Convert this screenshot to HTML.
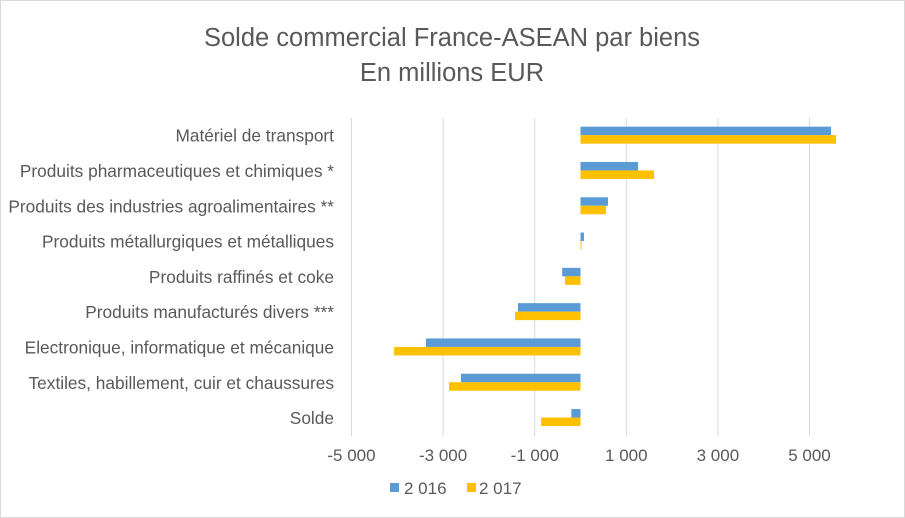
<!DOCTYPE html>
<html><head><meta charset="utf-8"><style>
html,body{margin:0;padding:0;background:#fff;}
svg{display:block;font-family:"Liberation Sans",sans-serif;}
</style></head><body>
<svg id="chart" width="905" height="518">
<rect x="0.5" y="0.5" width="904" height="517" fill="#fff" stroke="#d9d9d9"/>
<text x="452" y="46" text-anchor="middle" font-size="25.5" fill="#595959">Solde commercial France-ASEAN par biens</text>
<text x="452" y="81" text-anchor="middle" font-size="25.5" fill="#595959">En millions EUR</text>
<g id="grid"></g><g id="bars"></g><g id="cats"></g><g id="ticks"></g>
<g>
<rect x="390" y="483" width="9" height="9" fill="#5B9BD5"/>
<text x="404" y="494" font-size="17" fill="#595959">2 016</text>
<rect x="467" y="483" width="9" height="9" fill="#FFC000"/>
<text x="479" y="494" font-size="17" fill="#595959">2 017</text>
</g>
</svg>
<script>
const categories=["Matériel de transport","Produits pharmaceutiques et chimiques *","Produits des industries agroalimentaires **","Produits métallurgiques et métalliques","Produits raffinés et coke","Produits manufacturés divers ***","Electronique, informatique et mécanique","Textiles, habillement, cuir et chaussures","Solde"];
const values2016=[5470,1255,600,75,-400,-1365,-3375,-2610,-200];
const values2017=[5580,1605,555,20,-340,-1430,-4070,-2870,-860];
const tickValues=[-5000,-3000,-1000,1000,3000,5000];
const tickLabels=["-5 000","-3 000","-1 000","1 000","3 000","5 000"];
const NS="http://www.w3.org/2000/svg";
const x=v=>580.5+v*0.0458;
const rowTop=118,rowH=35.3,plotBottom=436;
const y=i=>rowTop+i*rowH;
function mk(tag,attrs,parent){const e=document.createElementNS(NS,tag);for(const k in attrs)e.setAttribute(k,attrs[k]);document.getElementById(parent).appendChild(e);return e;}
tickValues.forEach((t,i)=>{
 const g=mk('line',{x1:x(t),x2:x(t),y1:rowTop,y2:plotBottom,stroke:'#d9d9d9','stroke-width':1},'grid');
 
 
 const l=mk('text',{x:x(t),y:461,'text-anchor':'middle','font-size':17,fill:'#595959'},'ticks');
 l.textContent=tickLabels[i];
 
 
});
categories.forEach((c,i)=>{
 const c0=y(i)+rowH/2;
 const t=mk('text',{x:334,y:c0+6,'text-anchor':'end','font-size':17.3,fill:'#595959'},'cats');
 t.textContent=c;
 
 
 [[values2016[i],'#5B9BD5',c0-9],[values2017[i],'#FFC000',c0-0.5]].forEach(([v,col,yy],k)=>{
  const b=mk('rect',{x:Math.min(x(0),x(v)),y:yy,width:Math.max(1,Math.abs(x(v)-x(0))),height:8.5,fill:col},'bars');
  
  
 });
});
</script>
</body></html>
